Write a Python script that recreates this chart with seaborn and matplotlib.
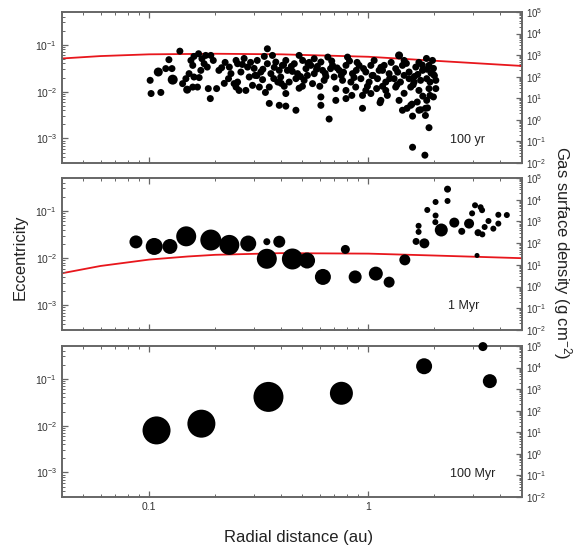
import numpy as np
import pandas as pd
import matplotlib
matplotlib.use('Agg')
import matplotlib.pyplot as plt
from matplotlib.ticker import FixedLocator, NullFormatter, LogFormatterSciNotation
import seaborn as sns

# ── data ──────────────────────────────────────────────────────────────
# panel 1 (100 yr): many small planetesimals/embryos
p1_r = [0.101, 0.102, 0.113, 0.110, 0.123, 0.119, 0.127, 0.128, 0.138, 0.142,
        0.149, 0.152, 0.158, 0.155, 0.160, 0.168, 0.174, 0.181, 0.191, 0.178,
        0.184, 0.160, 0.169, 0.158, 0.166, 0.186, 0.203, 0.190, 0.208, 0.214,
        0.232, 0.236, 0.230, 0.249, 0.249, 0.147, 0.172, 0.196, 0.222, 0.220,
        0.346, 0.365, 0.566, 0.253, 0.262, 0.253, 0.257, 0.281, 0.286, 0.296,
        0.311, 0.323, 0.329, 0.318, 0.346, 0.359, 0.353, 0.378, 0.392, 0.386,
        0.398, 0.420, 0.427, 0.435, 0.420, 0.459, 0.475, 0.467, 0.501, 0.519,
        0.509, 0.546, 0.566, 0.556, 0.607, 0.618, 0.628, 0.653, 0.672, 0.353,
        0.392, 0.420, 0.467, 0.607, 0.607, 0.244, 0.271, 0.301, 0.335, 0.405,
        0.483, 0.527, 0.585, 0.276, 0.339, 0.483,
        0.803, 1.38, 0.686, 0.736, 0.790, 0.846, 0.907, 0.973, 1.026, 1.119,
        1.18, 1.243, 1.332, 1.43, 1.533, 1.645, 1.765, 1.89, 1.96, 0.698,
        0.762, 0.832, 0.924, 1.008, 1.10, 1.20, 1.31, 1.40, 1.533, 1.616,
        1.73, 1.845, 1.91, 0.71, 0.79, 0.875, 0.973, 1.09, 1.20, 1.332,
        1.56, 1.70, 1.89, 0.71, 0.79, 0.94, 1.026, 1.14, 1.22, 1.38,
        1.56, 1.67, 1.70, 1.82, 1.91, 1.845, 0.94, 1.43, 1.50, 1.59,
        1.82, 1.89, 1.59, 1.81, 0.662, 1.13, 2.03, 1.98, 1.58, 1.73,
        1.86, 0.888, 1.062, 1.27, 1.455, 1.70, 1.84, 0.752, 0.88, 1.05,
        1.16, 1.455, 1.68, 1.98, 1.98, 0.84, 1.455, 1.77, 2.03,
        0.266, 0.304, 0.372, 0.445, 0.537, 0.635, 0.290, 0.413,
        0.33, 0.37, 0.41, 0.45, 0.49, 0.53, 0.58, 0.64, 0.72, 0.77,
        0.86, 0.95, 1.04, 1.14, 1.25, 1.36, 1.49, 1.62, 1.76, 1.93,
        0.31, 0.40, 0.50, 0.60, 0.68, 0.82, 0.99, 1.16, 1.35, 1.60,
        1.85, 2.0]
p1_e = [0.0174, 0.0091, 0.0096, 0.0262, 0.048, 0.031, 0.031, 0.018, 0.073, 0.0148,
        0.0110, 0.0242, 0.0363, 0.0463, 0.0564, 0.0643, 0.0504, 0.0592, 0.0592, 0.0394,
        0.0334, 0.0205, 0.0199, 0.0125, 0.0125, 0.0116, 0.0116, 0.0071, 0.0284, 0.0324,
        0.0334, 0.0242, 0.0189, 0.0463, 0.0125, 0.0189, 0.0284, 0.0463, 0.042, 0.0150,
        0.082, 0.0592, 0.0504, 0.0394, 0.0262, 0.0160, 0.0106, 0.0334, 0.0205, 0.0136,
        0.0463, 0.0262, 0.0180, 0.0125, 0.0394, 0.0242, 0.0125, 0.0427, 0.0284, 0.0160,
        0.0205, 0.0463, 0.0284, 0.0160, 0.0091, 0.0394, 0.0242, 0.0189, 0.0463, 0.0309,
        0.0174, 0.0363, 0.0242, 0.0148, 0.0427, 0.0284, 0.0174, 0.0545, 0.0309, 0.0056,
        0.0051, 0.0049, 0.0040, 0.0077, 0.0051, 0.0148, 0.0510, 0.0313, 0.0564, 0.0363,
        0.0592, 0.0222, 0.0345, 0.0106, 0.0096, 0.0118,
        0.0545, 0.0592, 0.0363, 0.0284, 0.0363, 0.0242, 0.0363, 0.0262, 0.0363, 0.0284,
        0.0363, 0.0242, 0.0309, 0.0363, 0.0262, 0.0334, 0.0284, 0.0363, 0.0463, 0.0205,
        0.0174, 0.0160, 0.0189, 0.0160, 0.0189, 0.0160, 0.0189, 0.0160, 0.0189, 0.0160,
        0.0174, 0.0189, 0.0160, 0.0116, 0.0106, 0.0125, 0.0106, 0.0116, 0.0106, 0.0125,
        0.0125, 0.0106, 0.0116, 0.0065, 0.0071, 0.0083, 0.0091, 0.0065, 0.0083, 0.0065,
        0.0051, 0.0060, 0.0040, 0.0044, 0.0083, 0.0065, 0.0044, 0.0040, 0.0044, 0.0030,
        0.0031, 0.0017, 0.00065, 0.00044, 0.0026, 0.0058, 0.0116, 0.0077, 0.0054, 0.0041,
        0.0045, 0.0420, 0.0463, 0.0420, 0.0463, 0.0420, 0.0510, 0.0222, 0.0284, 0.0222,
        0.0284, 0.0222, 0.0233, 0.0233, 0.0313, 0.0083, 0.0092, 0.0080, 0.0174,
        0.038, 0.0222, 0.0329, 0.0345, 0.0420, 0.0245, 0.042, 0.0130,
        0.030, 0.019, 0.037, 0.027, 0.021, 0.040, 0.030, 0.021, 0.032, 0.026,
        0.020, 0.031, 0.022, 0.033, 0.019, 0.026, 0.040, 0.021, 0.037, 0.025,
        0.022, 0.015, 0.013, 0.013, 0.045, 0.045, 0.013, 0.013, 0.014, 0.014,
        0.030, 0.022]
p1_rad = [7] * len(p1_r)
p1_rad[3] = 9
p1_rad[7] = 10
p1_rad[10] = 8
p1_rad[97] = 8

# panel 2 (1 Myr)
p2_r = [0.087, 0.1054, 0.1243, 0.1475, 0.191, 0.232, 0.283, 0.344, 0.392, 0.344,
        0.450, 0.525, 0.620, 0.785, 0.870, 1.081, 1.243, 1.466, 1.650, 1.80,
        1.694, 1.694, 1.856, 2.025, 2.025, 2.02, 2.150, 2.296, 2.296, 2.465,
        2.666, 2.879, 2.972, 3.065, 3.249, 3.30, 3.163, 3.31, 3.39, 3.53,
        3.715, 3.915, 3.915, 4.28, 3.13]
p2_e = [0.0221, 0.0177, 0.0177, 0.029, 0.0242, 0.0191, 0.0204, 0.0223, 0.0223, 0.0097,
        0.0096, 0.0089, 0.0040, 0.0153, 0.0040, 0.0047, 0.0031, 0.0092, 0.0226, 0.0206,
        0.0484, 0.036, 0.105, 0.155, 0.080, 0.058, 0.0395, 0.290, 0.163, 0.0567,
        0.037, 0.054, 0.089, 0.132, 0.120, 0.104, 0.0347, 0.0319, 0.0457, 0.0613,
        0.0422, 0.083, 0.054, 0.082, 0.0114]
p2_rad = [13, 17, 15, 20, 21, 20, 16, 7, 12, 20,
          21, 16, 16, 9, 13, 14, 11, 11, 7, 10,
          6, 6, 6, 6, 6, 6, 13, 7, 6, 10,
          7, 10, 6, 6, 6, 6, 7, 6, 6, 6,
          6, 6, 6, 6, 5]

# panel 3 (100 Myr)
p3_r = [0.108, 0.173, 0.35, 0.753, 1.795, 3.33, 3.58]
p3_e = [0.0079, 0.011, 0.041, 0.049, 0.185, 0.486, 0.089]
p3_rad = [28, 28, 30, 23, 16, 9, 14]

# gas surface density profiles (g cm^-2)
gas1_r = [0.04, 0.06, 0.1, 0.2, 0.4, 1.0, 2.0, 5.0]
gas1_sigma = [700, 905, 1090, 1160, 1090, 840, 550, 316]
gas2_r = [0.04, 0.06, 0.1, 0.15, 0.2, 0.4, 1.0, 2.0, 5.0]
gas2_sigma = [4.1, 8.9, 17.5, 24.3, 29, 34.6, 32.9, 26.9, 20.3]

labels = ["100 yr", "1 Myr", "100 Myr"]
ecc_ticks = [1e-3, 1e-2, 1e-1]
gas_ticks = [1e-2, 1e-1, 1e0, 1e1, 1e2, 1e3, 1e4, 1e5]


def minor_between(lo_exp, hi_exp, vmin, vmax):
    vals = [m * 10.0 ** k for k in range(lo_exp, hi_exp) for m in range(2, 10)]
    return [v for v in vals if vmin <= v <= vmax]


# ── style ────────────────────────────────────────────────────────────
sns.set_style("ticks")
plt.rcParams['font.family'] = ['Liberation Sans', 'DejaVu Sans']
plt.rcParams['mathtext.fontset'] = 'custom'
plt.rcParams['mathtext.rm'] = 'Liberation Sans'
plt.rcParams['mathtext.it'] = 'Liberation Sans:italic'
plt.rcParams['mathtext.bf'] = 'Liberation Sans:bold'
plt.rcParams['axes.unicode_minus'] = False
SPINE = "#666666"
PX = 0.72  # points per pixel at dpi 100

fig = plt.figure(figsize=(5.76, 5.48), dpi=100)
rects = [[0.1076, 0.7026, 0.798, 0.2755],
         [0.1076, 0.3978, 0.798, 0.2774],
         [0.1076, 0.0931, 0.798, 0.2755]]
panels = [(p1_r, p1_e, p1_rad), (p2_r, p2_e, p2_rad), (p3_r, p3_e, p3_rad)]
gas = [(gas1_r, gas1_sigma), (gas2_r, gas2_sigma), None]
label_x = [0.882, 0.874, 0.894]

for i, rect in enumerate(rects):
    ax = fig.add_axes(rect)
    r, e, rad = panels[i]
    df = pd.DataFrame({"r": r, "e": e, "area": (np.array(rad) * PX) ** 2})
    sns.scatterplot(data=df, x="r", y="e", s=df["area"], color="black",
                    edgecolor="none", linewidth=0, legend=False, ax=ax,
                    clip_on=False, zorder=3)
    ax.set_xscale("log")
    ax.set_yscale("log")
    ax.set_xlim(0.04, 5)
    ax.set_ylim(3e-4, 0.5)
    ax.yaxis.set_major_locator(FixedLocator(ecc_ticks))
    ax.yaxis.set_major_formatter(LogFormatterSciNotation())
    ax.yaxis.set_minor_locator(FixedLocator(minor_between(-4, 0, 3e-4, 0.5)))
    ax.yaxis.set_minor_formatter(NullFormatter())
    ax.xaxis.set_minor_locator(FixedLocator(minor_between(-2, 1, 0.04, 5)))
    ax.set_xlabel("")
    ax.set_ylabel("")
    ax.text(label_x[i], 0.155, labels[i], transform=ax.transAxes,
            ha="center", va="center", fontsize=9, color="#222222")

    ax2 = ax.twinx()
    ax2.set_yscale("log")
    ax2.set_ylim(1e-2, 1e5)
    ax2.yaxis.set_major_locator(FixedLocator(gas_ticks))
    ax2.yaxis.set_major_formatter(LogFormatterSciNotation())
    ax2.yaxis.set_minor_locator(FixedLocator(minor_between(-2, 5, 1e-2, 1e5)))
    ax2.yaxis.set_minor_formatter(NullFormatter())
    if gas[i] is not None:
        gdf = pd.DataFrame({"r": gas[i][0], "sigma": gas[i][1]})
        sns.lineplot(data=gdf, x="r", y="sigma", color="#e8161c", lw=1.3,
                     ax=ax2, zorder=2)
    ax2.set_xlim(0.04, 5)
    ax2.set_ylabel("")
    ax2.set_xlabel("")
    ax.set_zorder(ax2.get_zorder() + 1)
    ax.patch.set_visible(False)

    for a in (ax, ax2):
        for sp in a.spines.values():
            sp.set_visible(True)
            sp.set_color(SPINE)
            sp.set_linewidth(1.2)
        a.tick_params(which="both", direction="in", colors=SPINE,
                      labelcolor="#333333", labelsize=7.5)
        a.tick_params(which="major", length=4, width=0.9)
        a.tick_params(which="minor", length=2, width=0.7)
    ax.tick_params(axis="x", which="both", top=True, bottom=True)
    ax.tick_params(axis="y", which="both", left=True, right=False)
    ax2.tick_params(axis="y", which="both", left=False, right=True, labelsize=7)
    if i < 2:
        ax.tick_params(axis="x", which="both", labelbottom=False)
    else:
        ax.set_xticks([0.1, 1])
        ax.set_xticklabels(["0.1", "1"])
        ax.xaxis.set_minor_formatter(NullFormatter())

fig.text(0.035, 0.53, "Eccentricity", rotation=90, ha="center", va="center",
         fontsize=12, color="#222222")
fig.text(0.977, 0.538, "Gas surface density (g cm$^{-2}$)", rotation=270,
         ha="center", va="center", fontsize=12, color="#222222")
fig.text(0.519, 0.02, "Radial distance (au)", ha="center", va="center",
         fontsize=12, color="#222222")

fig.savefig("out.png", dpi=100)
